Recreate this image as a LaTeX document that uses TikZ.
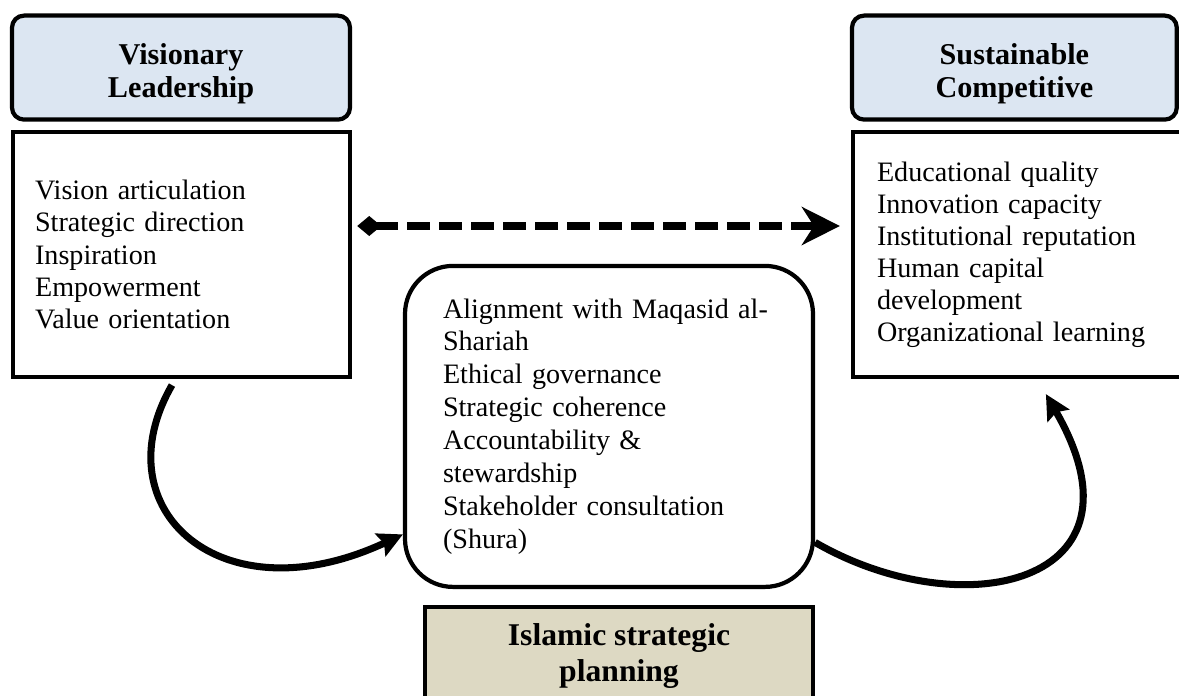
\documentclass[tikz,border=0pt]{standalone}
\usepackage{fontspec}
\setmainfont{Liberation Serif}
\usepackage{tikz}
\usetikzlibrary{arrows.meta}
\definecolor{headblue}{HTML}{DCE6F2}
\definecolor{planbeige}{HTML}{DDD9C3}

\begin{document}
\begin{tikzpicture}[
    every node/.style={font=\fontsize{20}{22.8}\selectfont},
    headbox/.style={draw, line width=3pt, rounded corners=0.3cm, fill=headblue, align=center,
        font=\fontsize{21.5}{23.5}\selectfont\bfseries, minimum height=2.6cm},
    listbox/.style={draw, line width=3pt, align=left, inner ysep=0pt},
    bigarrow/.style={line width=5pt, -{Stealth[length=0.62cm,width=0.62cm,inset=0.1cm]}},
    dashlink/.style={line width=5.5pt, dash pattern=on 0.575cm off 0.225cm,
        {Diamond[length=0.6cm,width=0.5cm]}-{Stealth[length=0.95cm,width=0.95cm,inset=0.3cm]}}
]
    \useasboundingbox (0,0) rectangle (29.475,-17.375);
    \clip (0,0) rectangle (29.475,-17.375);
    % leadership side
    \node[headbox, minimum width=8.45cm] (lhead) at (4.525,-1.69) {\rule{0pt}{0.85cm}Visionary\\Leadership};
    \node[listbox, minimum width=8.425cm, minimum height=6.125cm, inner xsep=0.55cm, text width=7.325cm]
        (lbox) at (4.54,-6.3625) {Vision articulation\\Strategic direction\\Inspiration\\Empowerment\\Value orientation};
    % advantage side
    \node[headbox, minimum width=8.12cm] (rhead) at (25.36,-1.69) {\rule{0pt}{0.85cm}Sustainable\\Competitive};
    \node[listbox, minimum width=8.475cm, minimum height=6.125cm, inner xsep=0.6cm, text width=7.275cm]
        (rbox) at (25.5625,-6.3625) {Educational quality\\Innovation capacity\\Institutional reputation\\Human capital\\development\\Organizational learning};
    % planning in the middle
    \node[listbox, rounded corners=1.2cm, minimum width=10.2cm, minimum height=8.025cm, inner xsep=0.95cm, text width=8.3cm,
        font=\fontsize{20}{23.4}\selectfont]
        (mid) at (15.225,-10.66) {Alignment with Maqasid al-\\Shariah\\Ethical governance\\Strategic coherence\\Accountability \&\\stewardship\\Stakeholder consultation\\(Shura)};
    \node[draw, line width=3pt, fill=planbeige, align=center, font=\fontsize{22.5}{25}\selectfont\bfseries,
        minimum width=9.7cm, minimum height=2.45cm] (plan) at (15.475,-16.4) {Islamic strategic\\planning};
    % connectors
    \draw[dashlink] ([xshift=0.125cm,yshift=0.7125cm]lbox.east) -- ([xshift=-0.275cm,yshift=0.7125cm]rbox.west);
    \draw[bigarrow] ([xshift=-0.24cm,yshift=-0.15cm]lbox.south)
        to[out=-120,in=205,out distance=3.6cm,in distance=5cm] ([yshift=-2.7cm]mid.west);
    \draw[bigarrow] ([yshift=-2.9cm]mid.east)
        to[out=-30,in=-60,out distance=4.25cm,in distance=5.5cm] ([xshift=4.875cm,yshift=-0.375cm]rbox.south west);
\end{tikzpicture}
\end{document}
